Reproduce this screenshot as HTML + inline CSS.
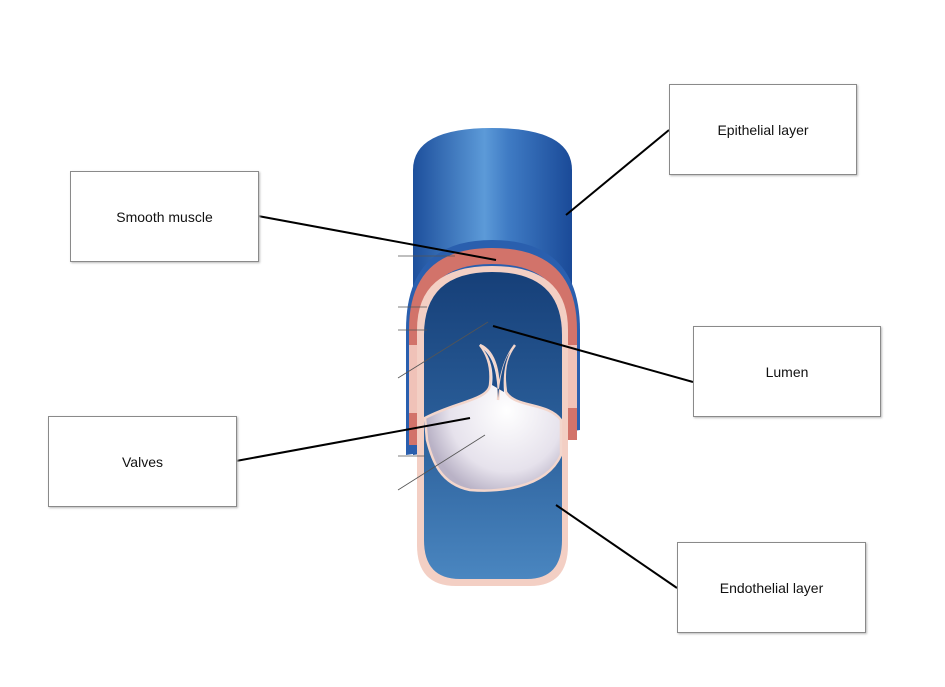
<!DOCTYPE html>
<html><head><style>
body{margin:0;background:#fff;}
.b{position:absolute;border:1px solid #8a8a8a;background:#fff;box-shadow:1px 1px 2px #bbb;font-family:"Liberation Sans",sans-serif;font-size:14px;color:#111;display:flex;align-items:center;justify-content:center;box-sizing:border-box;}
</style></head><body>
<div style="position:relative;width:945px;height:687px;overflow:hidden">
<svg width="945" height="687" style="position:absolute;left:0;top:0">
<defs>
<linearGradient id="tube" x1="0" x2="1">
<stop offset="0" stop-color="#1d4f9c"/><stop offset="0.45" stop-color="#5c9ad8"/><stop offset="0.6" stop-color="#3f7bc4"/><stop offset="1" stop-color="#1a4a98"/>
</linearGradient>
<linearGradient id="lum" x1="0" y1="0" x2="0" y2="1">
<stop offset="0" stop-color="#163f78"/><stop offset="0.5" stop-color="#2a5e99"/><stop offset="1" stop-color="#4a86c0"/>
</linearGradient>
<radialGradient id="val" cx="0.6" cy="0.45" r="0.6">
<stop offset="0" stop-color="#ffffff"/><stop offset="0.7" stop-color="#e6e2ec"/><stop offset="1" stop-color="#b9b2c6"/>
</radialGradient>
</defs>
<path d="M413,170 Q413,128 492,128 Q572,128 572,170 L572,430 L413,455 Z" fill="url(#tube)"/>
<path d="M406,455 L406,330 Q406,240 492,240 Q580,240 580,330 L580,430 Z" fill="#2a5fae"/>
<path d="M409,445 L409,330 Q409,248 492,248 Q577,248 577,330 L577,440 L565,440 L565,330 Q565,264 492,264 Q421,264 421,330 L421,445 Z" fill="#d2736a"/>
<rect x="409" y="345" width="11" height="68" fill="#f0c2b8"/>
<rect x="566" y="345" width="11" height="63" fill="#f0c2b8"/>
<path d="M417,330 Q417,266 492,266 Q568,266 568,330 L568,545 Q568,586 530,586 L456,586 Q417,586 417,545 Z" fill="#f3cfc4"/>
<path d="M424,335 Q424,272 492,272 Q562,272 562,335 L562,540 Q562,579 527,579 L460,579 Q424,579 424,540 Z" fill="url(#lum)"/>
<path d="M425,418 C455,402 488,400 490,385 C492,368 488,355 480,345 C496,352 500,375 498,400 C500,375 505,358 515,345 C505,358 503,372 506,392 C515,408 548,402 561,420 L561,455 C545,490 495,492 470,490 C440,484 432,460 427,440 Z" fill="url(#val)" stroke="#f3d6cc" stroke-width="2.5"/>
<path d="M492,385 C494,370 490,358 484,350 C495,360 497,375 498,398 C500,378 503,362 510,352 C504,365 503,378 504,392 Z" fill="#1e4d8a"/>
<g stroke="#555" stroke-width="0.8">
<line x1="398" y1="256" x2="455" y2="256"/>
<line x1="398" y1="307" x2="427" y2="307"/>
<line x1="398" y1="330" x2="427" y2="330"/>
<line x1="398" y1="378" x2="488" y2="322"/>
<line x1="398" y1="456" x2="425" y2="456"/>
<line x1="398" y1="490" x2="485" y2="435"/>
</g>
<g stroke="#000" stroke-width="2">
<line x1="669" y1="130" x2="566" y2="215"/>
<line x1="258" y1="216" x2="496" y2="260"/>
<line x1="693" y1="382" x2="493" y2="326"/>
<line x1="236" y1="461" x2="470" y2="418"/>
<line x1="677" y1="588" x2="556" y2="505"/>
</g>
</svg>
<div class="b" style="left:669px;top:84px;width:188px;height:91px">Epithelial layer</div>
<div class="b" style="left:70px;top:171px;width:189px;height:91px">Smooth muscle</div>
<div class="b" style="left:693px;top:326px;width:188px;height:91px">Lumen</div>
<div class="b" style="left:48px;top:416px;width:189px;height:91px">Valves</div>
<div class="b" style="left:677px;top:542px;width:189px;height:91px">Endothelial layer</div>
</div>
</body></html>
